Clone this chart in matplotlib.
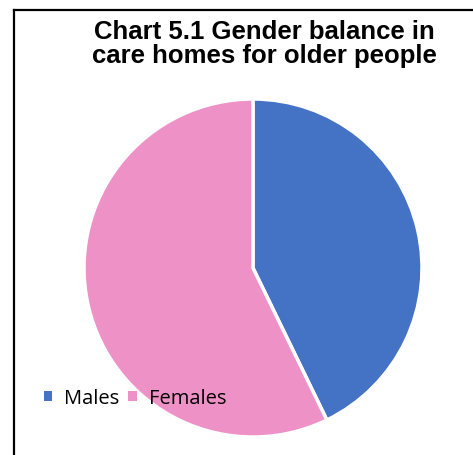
import matplotlib.pyplot as plt
from matplotlib.lines import Line2D
from matplotlib.patches import Patch

labels = ["Males", "Females"]
shares = [42.8, 57.2]
colors = ["#4472C4", "#EE91C6"]
title = "Chart 5.1 Gender balance in\ncare homes for older people"

W, H = 473, 456
fig = plt.figure(figsize=(W / 100, H / 100), dpi=100)

# chart area border: only the top and left edges fall inside the image
top = 1 - 10.5 / H
left = 13.5 / W
fig.add_artist(Line2D([left, 1.01], [top, top], transform=fig.transFigure,
                      color="black", linewidth=1.6))
fig.add_artist(Line2D([left, left], [-0.01, top], transform=fig.transFigure,
                      color="black", linewidth=1.6))

r = 169
cx, cy = 253, 269
ax = fig.add_axes([(cx - r) / W, 1 - (cy + r) / H, 2 * r / W, 2 * r / H])
ax.pie(shares, colors=colors, startangle=90, counterclock=False,
       wedgeprops=dict(edgecolor="white", linewidth=2.5), radius=1.0)
ax.set_xlim(-1, 1)
ax.set_ylim(-1, 1)
ax.set_aspect("equal")
ax.axis("off")

fig.text(264 / W, 1 - 20 / H, title, ha="center", va="top",
         fontsize=18.5, fontweight="bold", family="Liberation Sans",
         linespacing=1.0)

handles = [Patch(facecolor=c, edgecolor="none", label=l) for c, l in zip(colors, labels)]
fig.legend(handles=handles, loc="center left", bbox_to_anchor=(44 / W, 1 - 399 / H),
           ncol=2, frameon=False, prop=dict(family="Open Sans", size=14.5),
           handlelength=0.4, handleheight=0.4, handletextpad=0.6,
           columnspacing=0.45, borderaxespad=0, borderpad=0)

fig.savefig("out.png", dpi=100)
